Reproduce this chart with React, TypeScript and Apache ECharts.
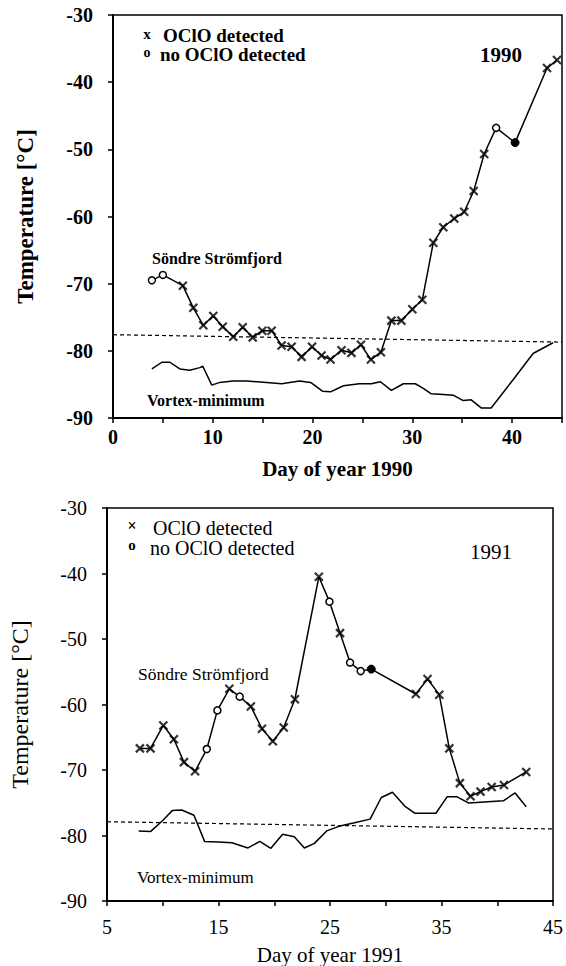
import React, { useEffect, useRef } from "react";
import * as echarts from "echarts";

// ---------- 1990 ----------
const days1990 = [3.9, 5.0, 7.0, 8.05, 9.05, 10.05, 11.0, 12.05, 13.0, 14.0, 14.96, 15.9, 16.9, 17.9, 18.9, 19.95, 20.9, 21.8, 22.9, 23.9, 24.85, 25.85, 26.85, 27.9, 28.9, 30.0, 31.0, 32.1, 33.1, 34.2, 35.2, 36.15, 37.2, 38.4, 40.3, 43.5, 44.5];
const sondre1990 = [-69.5, -68.7, -70.3, -73.6, -76.2, -74.8, -76.4, -77.9, -76.5, -78.0, -77.0, -77.0, -79.2, -79.4, -80.9, -79.4, -80.7, -81.3, -79.9, -80.3, -79.1, -81.3, -80.2, -75.5, -75.5, -73.8, -72.4, -63.9, -61.6, -60.3, -59.3, -56.2, -50.7, -46.8, -49.0, -37.9, -36.7];
const marks1990 = ["o", "o", "x", "x", "x", "x", "x", "x", "x", "x", "x", "x", "x", "x", "x", "x", "x", "x", "x", "x", "x", "x", "x", "x", "x", "x", "x", "x", "x", "x", "x", "x", "x", "o", "f", "x", "x"];
const vortexDays1990 = [3.9, 4.9, 5.7, 6.7, 7.7, 8.7, 9.0, 9.9, 10.7, 12.0, 13.4, 15.4, 16.9, 18.7, 19.8, 21.0, 21.8, 23.1, 24.7, 25.9, 26.8, 27.9, 29.1, 30.3, 31.1, 31.9, 33.1, 34.1, 35.1, 35.9, 36.9, 37.9, 40.1, 42.1, 44.1];
const vortex1990 = [-82.7, -81.7, -81.7, -82.7, -82.9, -82.5, -82.3, -85.1, -84.7, -84.5, -84.5, -84.7, -84.9, -84.5, -84.7, -86.0, -86.1, -85.2, -84.9, -84.9, -84.6, -85.9, -84.9, -84.9, -85.6, -86.4, -86.5, -86.6, -87.4, -87.3, -88.5, -88.5, -84.3, -80.4, -78.8];
const thresholdDays1990 = [0, 45];
const threshold1990 = [-77.6, -78.7];

// ---------- 1991 ----------
const days1991 = [7.95, 8.9, 10.05, 11.0, 11.9, 12.9, 13.95, 14.9, 15.97, 16.9, 17.9, 18.9, 19.87, 20.85, 21.85, 24.0, 24.95, 25.9, 26.8, 27.75, 28.7, 32.7, 33.75, 34.8, 35.7, 36.65, 37.6, 38.5, 39.5, 40.6, 42.6];
const sondre1991 = [-66.7, -66.7, -63.2, -65.3, -68.8, -70.2, -66.8, -60.9, -57.6, -58.8, -60.3, -63.7, -65.6, -63.5, -59.2, -40.5, -44.3, -49.1, -53.6, -54.9, -54.6, -58.4, -56.1, -58.5, -66.7, -72.0, -74.0, -73.3, -72.6, -72.3, -70.3];
const marks1991 = ["x", "x", "x", "x", "x", "x", "o", "o", "x", "o", "x", "x", "x", "x", "x", "x", "o", "x", "o", "o", "f", "x", "x", "x", "x", "x", "x", "x", "x", "x", "x"];
const vortexDays1991 = [7.84, 8.9, 10.0, 10.85, 11.7, 12.8, 13.75, 15.0, 16.2, 17.65, 18.7, 19.7, 20.75, 21.8, 22.7, 23.6, 24.7, 25.8, 27.1, 28.6, 29.6, 30.6, 31.7, 32.6, 34.5, 35.5, 36.4, 37.45, 40.55, 41.6, 42.6];
const vortex1991 = [-79.3, -79.4, -77.7, -76.2, -76.1, -76.9, -80.9, -81.0, -81.1, -81.9, -80.9, -81.95, -79.8, -80.2, -81.9, -81.2, -79.3, -78.6, -78.1, -77.5, -74.2, -73.4, -75.5, -76.6, -76.6, -74.1, -74.1, -75.05, -74.7, -73.5, -75.6];
const thresholdDays1991 = [5, 45];
const threshold1991 = [-77.9, -79.0];

const FONT = '"Liberation Serif", "DejaVu Serif", serif';
const CROSS = "path://M0,0L10,10M10,0L0,10";

const pairs = (xs: number[], ys: number[]) => xs.map((x, i) => [x, ys[i]]);
const pick = (xs: number[], ys: number[], ms: string[], code: string) =>
  xs.map((x, i) => (ms[i] === code ? [x, ys[i]] : null)).filter((p) => p !== null);

function seriesFor(k: number, days: number[], temps: number[], marks: string[], vd: number[], vt: number[], td: number[], tt: number[]) {
  const base = { xAxisIndex: k, yAxisIndex: k, silent: true };
  return [
    { ...base, type: "line", data: pairs(td, tt), symbol: "none", lineStyle: { color: "#000", width: 1.2, type: [4, 3] }, z: 1 },
    { ...base, type: "line", data: pairs(vd, vt), symbol: "none", lineStyle: { color: "#000", width: 1.5 }, z: 2 },
    { ...base, type: "line", data: pairs(days, temps), symbol: "none", lineStyle: { color: "#000", width: 1.5 }, z: 2 },
    { ...base, type: "scatter", data: pick(days, temps, marks, "x"), symbol: CROSS, symbolSize: 8, itemStyle: { color: "#000", borderColor: "#000", borderWidth: 2.2 }, z: 3 },
    { ...base, type: "scatter", data: pick(days, temps, marks, "o"), symbol: "circle", symbolSize: 7, itemStyle: { color: "#fff", borderColor: "#000", borderWidth: 1.5, opacity: 1 }, z: 3 },
    { ...base, type: "scatter", data: pick(days, temps, marks, "f"), symbol: "circle", symbolSize: 8, itemStyle: { color: "#000", borderColor: "#000", borderWidth: 1, opacity: 1 }, z: 3 },
  ];
}

function txt(x: number, y: number, text: string, size: number, weight: string, align = "left") {
  const font = `${weight} ${size}px ${FONT}`;
  return {
    type: "text",
    x,
    y,
    silent: true,
    style: { text, font, fill: "#000", align, verticalAlign: "middle", textAlign: align, textVerticalAlign: "middle" },
  };
}

function xAxisFor(k: number, min: number, name: string, bold: boolean, margin: number, gap: number) {
  return {
    gridIndex: k,
    type: "value",
    min,
    max: 45,
    interval: 5,
    axisLine: { show: true, onZero: false, lineStyle: { color: "#000", width: 2 } },
    axisTick: { show: true, inside: false, length: 5, lineStyle: { color: "#000", width: 1.5 } },
    axisLabel: {
      formatter: (v: number) => (((v - min) % 10 + 10) % 10 === 0 ? String(v) : ""),
      fontFamily: FONT,
      fontSize: 20,
      fontWeight: bold ? "bold" : "normal",
      color: "#000",
      margin,
    },
    splitLine: { show: false },
    name,
    nameLocation: "middle",
    nameGap: gap,
    nameTextStyle: { fontFamily: FONT, fontSize: 21, fontWeight: bold ? "bold" : "normal", color: "#000" },
  };
}

function yAxisFor(k: number, bold: boolean, gap: number, size: number) {
  return {
    gridIndex: k,
    type: "value",
    min: -90,
    max: -30,
    interval: 10,
    axisLine: { show: true, onZero: false, lineStyle: { color: "#000", width: 2 } },
    axisTick: { show: true, inside: false, length: 5, lineStyle: { color: "#000", width: 1.5 } },
    axisLabel: { fontFamily: FONT, fontSize: 20, fontWeight: bold ? "bold" : "normal", color: "#000", margin: 20 },
    splitLine: { show: false },
    name: "Temperature [°C]",
    nameLocation: "middle",
    nameRotate: 90,
    nameGap: gap,
    nameTextStyle: { fontFamily: FONT, fontSize: size, fontWeight: bold ? "bold" : "normal", color: "#000" },
  };
}

const option = {
  animation: false,
  backgroundColor: "#fff",
  grid: [
    { left: 113, top: 15, width: 449, height: 403, show: true, borderColor: "#000", borderWidth: 1.5, backgroundColor: "transparent" },
    { left: 104, top: 508, width: 452, height: 394, show: true, borderColor: "#000", borderWidth: 1.5, backgroundColor: "transparent" },
  ],
  xAxis: [xAxisFor(0, 0, "Day of year 1990", true, 9, 40), xAxisFor(1, 5, "Day of year 1991", false, 16, 43)],
  yAxis: [yAxisFor(0, true, 76, 23), yAxisFor(1, false, 75, 24)],
  series: [
    ...seriesFor(0, days1990, sondre1990, marks1990, vortexDays1990, vortex1990, thresholdDays1990, threshold1990),
    ...seriesFor(1, days1991, sondre1991, marks1991, vortexDays1991, vortex1991, thresholdDays1991, threshold1991),
  ],
  graphic: [
    txt(147, 34, "x", 15, "bold", "center"),
    txt(163, 35, "OClO detected", 19, "bold"),
    txt(147, 52, "o", 14, "bold", "center"),
    txt(160, 54, "no OClO detected", 19, "bold"),
    txt(480, 55, "1990", 21, "bold"),
    txt(152, 258, "Söndre Strömfjord", 16, "bold"),
    txt(147, 400, "Vortex-minimum", 16, "bold"),
    txt(132, 525, "×", 16, "bold", "center"),
    txt(153, 528, "OClO detected", 20, "normal"),
    txt(132, 545, "o", 15, "bold", "center"),
    txt(150, 548, "no OClO detected", 20, "normal"),
    txt(470, 552, "1991", 21, "normal"),
    txt(138, 674, "Söndre Strömfjord", 17.5, "normal"),
    txt(137, 877, "Vortex-minimum", 17, "normal"),
  ],
};

export default function App() {
  const ref = useRef<HTMLDivElement>(null);
  useEffect(() => {
    document.body.style.margin = "0";
    const chart = echarts.init(ref.current!, null, { renderer: "svg" });
    chart.setOption(option as any);
    return () => chart.dispose();
  }, []);
  return <div ref={ref} style={{ width: 566, height: 966 }} />;
}
